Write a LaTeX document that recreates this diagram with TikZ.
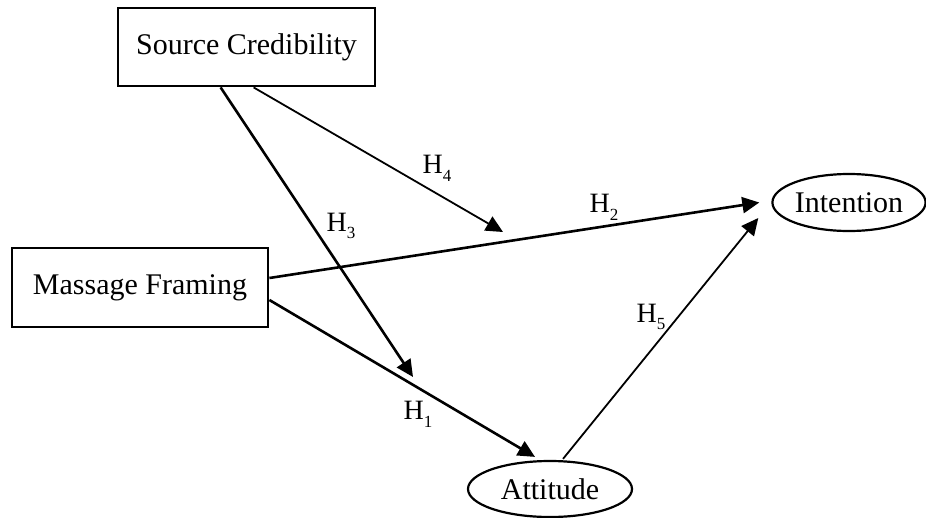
\documentclass[tikz,border=0pt]{standalone}
\usepackage{fontspec}
\setmainfont{Liberation Serif}
\usetikzlibrary{arrows.meta,shapes.geometric,calc}
\tikzset{
  boxnode/.style={draw,line width=2.8pt,rectangle,inner sep=0pt,font=\fontsize{30}{36}\selectfont},
  ellnode/.style={draw,line width=2.2pt,ellipse,inner sep=0pt,font=\fontsize{30}{36}\selectfont},
  thickarrow/.style={line width=2.6pt,-{Triangle[length=17pt,width=16pt]}},
  thinarrow/.style={line width=1.8pt,-{Triangle[length=17pt,width=16pt]}},
  hlabel/.style={inner sep=0pt,font=\fontsize{28}{32}\selectfont}
}
\newcommand{\hyp}[1]{H\raisebox{-0.6ex}{\fontsize{17}{20}\selectfont #1}}
\begin{document}
\begin{tikzpicture}[x=1pt,y=-1pt]
\useasboundingbox (0,0) rectangle (926,517);
\node[boxnode,minimum width=257pt,minimum height=78pt] (src) at (246.5,47) {Source Credibility};
\node[boxnode,minimum width=256pt,minimum height=79pt] (mf) at (140,287.5) {Massage Framing};
\node[ellnode,minimum width=164pt,minimum height=56pt] (att) at (550,489) {Attitude};
\node[ellnode,minimum width=148pt,minimum height=57pt] (int) at (849,202.5) {Intention};
\coordinate (h3end) at (413,377);
\coordinate (h4end) at (503,232);
\draw[thickarrow] ([xshift=104pt]src.south west) -- (h3end);
\draw[thinarrow] ([xshift=137pt]src.south west) -- (h4end);
\draw[thickarrow] ([yshift=9.5pt]mf.east) -- ([xshift=-12pt]int.west);
\draw[thickarrow] ([yshift=-12.5pt]mf.east) -- ([xshift=-15pt,yshift=3pt]att.north);
\draw[thinarrow] ([xshift=13pt,yshift=1pt]att.north) -- ([xshift=-13pt,yshift=-15.5pt]int.west);
\node[hlabel] (l4) at (437,168) {\hyp{4}};
\node[hlabel] (l3) at (341,226) {\hyp{3}};
\node[hlabel] (l2) at (604,207) {\hyp{2}};
\node[hlabel] (l5) at (651,317) {\hyp{5}};
\node[hlabel] (l1) at (418,414) {\hyp{1}};
\end{tikzpicture}
\end{document}
